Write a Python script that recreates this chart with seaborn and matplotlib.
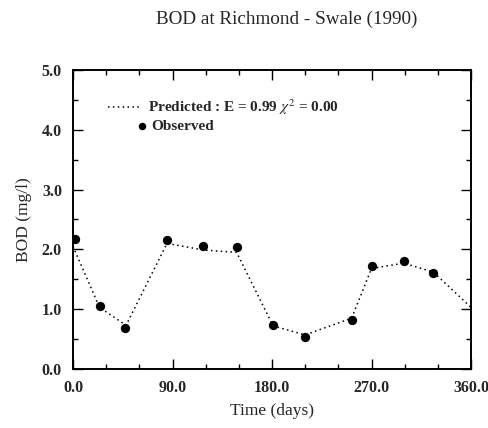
import matplotlib
matplotlib.use("Agg")
import matplotlib.pyplot as plt
import seaborn as sns
import pandas as pd
from matplotlib.ticker import MultipleLocator, FormatStrFormatter

# Data
pred_time = [0, 24, 48, 85, 118, 148, 181, 210, 252, 270, 299, 326, 360]
pred_bod = [2.05, 1.03, 0.73, 2.10, 1.99, 1.95, 0.72, 0.57, 0.85, 1.68, 1.77, 1.62, 1.03]
obs_time = [2, 24, 47, 85, 118, 148, 181, 210, 252, 270, 299, 326]
obs_bod = [2.18, 1.05, 0.68, 2.16, 2.05, 2.04, 0.74, 0.54, 0.82, 1.72, 1.80, 1.60]

title = "BOD at Richmond - Swale (1990)"
xlabel = "Time (days)"
ylabel = "BOD (mg/l)"
pred_label = "Predicted : E = 0.99 $\\chi^2$ = 0.00"
obs_label = "Observed"

sns.set_style("white")
plt.rcParams["font.family"] = ["Liberation Serif", "DejaVu Serif"]
plt.rcParams["mathtext.fontset"] = "stix"

pred_df = pd.DataFrame({"t": pred_time, "bod": pred_bod})
obs_df = pd.DataFrame({"t": obs_time, "bod": obs_bod})

fig = plt.figure(figsize=(4.88, 4.28), dpi=100)
ax = fig.add_axes([0.1496, 0.1379, 0.8156, 0.6985])

sns.lineplot(data=pred_df, x="t", y="bod", ax=ax, color="black",
             linestyle=(0, (1, 2.2)), linewidth=1.1, label=pred_label)
sns.scatterplot(data=obs_df, x="t", y="bod", ax=ax, color="black",
                s=45, edgecolor="black", linewidth=0, label=obs_label, zorder=3)

ax.set_xlim(0, 360)
ax.set_ylim(0, 5)
ax.xaxis.set_major_locator(MultipleLocator(90))
ax.xaxis.set_minor_locator(MultipleLocator(30))
ax.yaxis.set_major_locator(MultipleLocator(1))
ax.yaxis.set_minor_locator(MultipleLocator(0.5))
ax.xaxis.set_major_formatter(FormatStrFormatter("%.1f"))
ax.yaxis.set_major_formatter(FormatStrFormatter("%.1f"))
ax.tick_params(which="both", direction="in", top=True, right=True,
               bottom=True, left=True, color="black")
ax.tick_params(which="major", length=7, width=1.0, labelsize=11.5)
ax.tick_params(which="minor", length=3.5, width=1.0)
ax.tick_params(axis="x", which="major", pad=8)
ax.tick_params(axis="y", which="major", pad=8)
for lab in ax.get_xticklabels() + ax.get_yticklabels():
    lab.set_fontweight("bold")
for sp in ax.spines.values():
    sp.set_color("black")
    sp.set_linewidth(1.4)

ax.set_xlabel(xlabel, fontsize=12.5, labelpad=5)
ax.set_ylabel(ylabel, fontsize=12.5, labelpad=7)
fig.suptitle(title, fontsize=13.8, x=0.588, y=0.975)

# Legend: split in two so the marker sits where the reference puts it
handles, labels = ax.get_legend_handles_labels()
ax.get_legend().remove()
fs = 11
leg1 = ax.legend([handles[0]], [labels[0]], loc="center left",
                 bbox_to_anchor=(0.088, 0.876), frameon=False, fontsize=fs,
                 handlelength=2.1, handletextpad=0.5, borderpad=0,
                 borderaxespad=0)
for t in leg1.get_texts():
    t.set_fontweight("bold")
ax.add_artist(leg1)
leg2 = ax.legend([handles[1]], [labels[1]], loc="center left",
                 bbox_to_anchor=(0.158, 0.813), frameon=False, fontsize=fs,
                 handlelength=0.75, handletextpad=0.28, borderpad=0,
                 borderaxespad=0, markerscale=0.8)
for t in leg2.get_texts():
    t.set_fontweight("bold")

fig.savefig("out.png", dpi=100, facecolor="white")
